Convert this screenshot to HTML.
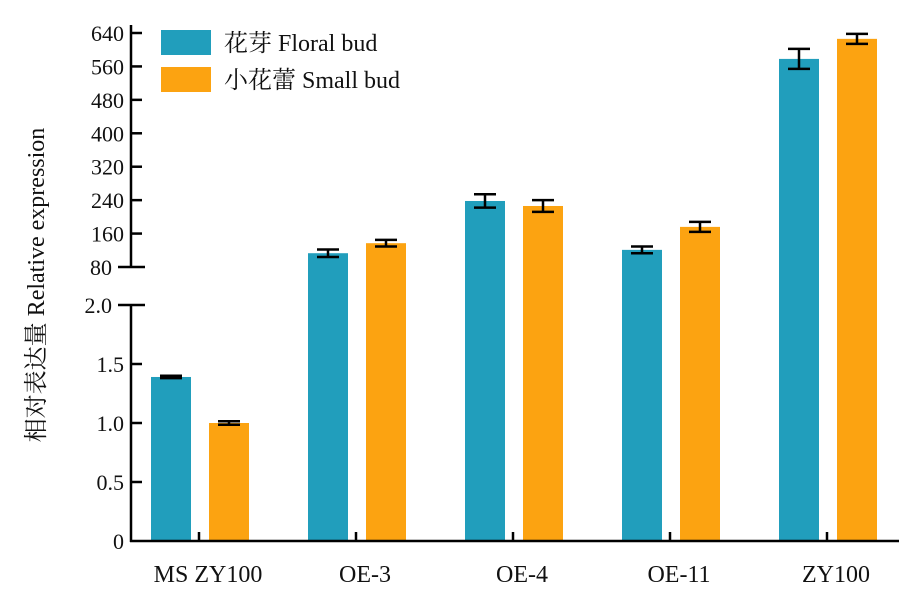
<!DOCTYPE html>
<html><head><meta charset="utf-8"><style>
body{margin:0;background:#fff}
svg text{font-family:"Liberation Serif","Noto Serif CJK SC","Noto Sans CJK SC",serif;fill:#111}
</style></head><body>
<svg id="chart" width="915" height="606" viewBox="0 0 915 606" xmlns="http://www.w3.org/2000/svg">
<g id="bars"></g>
<g id="axes"></g>
<text transform="translate(44,285) rotate(-90)" text-anchor="middle" font-size="24">相对表达量 Relative expression</text>
<g>
<rect x="161" y="30" width="50" height="25" fill="#219EBC"/>
<text x="224" y="51" font-size="24">花芽 Floral bud</text>
<rect x="161" y="67" width="50" height="25" fill="#FCA311"/>
<text x="224" y="88" font-size="24">小花蕾 Small bud</text>
</g>
</svg>
<script>
const categories=["MS ZY100","OE-3","OE-4","OE-11","ZY100"];
const floralValues=[1.39,113,238,121,578];
const floralErrors=[0.01,9,16,8,24];
const smallValues=[1.0,137,226,176,626];
const smallErrors=[0.015,8,14,12,12];
const upperTicks=[80,160,240,320,400,480,560,640];
const lowerTicks=[0,0.5,1.0,1.5,2.0];
const lowerTickLabels=["0","0.5","1.0","1.5","2.0"];

const NS="http://www.w3.org/2000/svg";
const X0=131,Y0=541;
function yLow(v){return 541-v*118;}
function yUp(v){return 267-(v-80)*(234/560);}
function yScale(v){return v<=2?yLow(v):yUp(v);}
function xCenter(i){return 199+i*157;}
function mk(tag,attrs,parent){const e=document.createElementNS(NS,tag);for(const k in attrs)e.setAttribute(k,attrs[k]);parent.appendChild(e);return e;}
const bars=document.getElementById('bars'),axes=document.getElementById('axes');
function drawBar(i,v,err,dx,color,nm){
  const x=xCenter(i)+dx;const top=yScale(v);
  const r=mk('rect',{x:x,y:top,width:40,height:Y0-top,fill:color},bars);
  
  
  const cx=x+20,t=yScale(v+err),b=yScale(v-err);
  const g=mk('g',{stroke:'#000','stroke-width':2.5},bars);
  
  
  mk('line',{x1:cx,y1:t,x2:cx,y2:b},g);
  mk('line',{x1:cx-11,y1:t,x2:cx+11,y2:t},g);
  mk('line',{x1:cx-11,y1:b,x2:cx+11,y2:b},g);
}
categories.forEach((c,i)=>{
  drawBar(i,floralValues[i],floralErrors[i],-48,'#219EBC','floral');
  drawBar(i,smallValues[i],smallErrors[i],10,'#FCA311','small');
  const t=mk('line',{x1:xCenter(i),y1:Y0,x2:xCenter(i),y2:Y0-9,stroke:'#000','stroke-width':2.5},axes);
  
  
  const l=mk('text',{x:xCenter(i)+9,y:582,'text-anchor':'middle','font-size':24},axes);
  
  
  l.textContent=c;
});
const ax=[[X0,25,X0,268],[X0,304,X0,542],[X0-1,Y0,899,Y0]];
ax.forEach(a=>{const e=mk('line',{x1:a[0],y1:a[1],x2:a[2],y2:a[3],stroke:'#000','stroke-width':2.5},axes);
  
  });
upperTicks.forEach(v=>{const y=yUp(v);const brk=v===80;
  const e=mk('line',{x1:brk?118:X0,y1:y,x2:brk?145:142,y2:y,stroke:'#000','stroke-width':2.5},axes);
  
  
  const t=mk('text',{x:brk?112:124,y:y+8,'text-anchor':'end','font-size':22},axes);
  
  
  t.textContent=v;});
lowerTicks.forEach((v,i)=>{const y=yLow(v);const brk=v===2;if(v===0)return;
  const e=mk('line',{x1:brk?118:X0,y1:y,x2:brk?145:142,y2:y,stroke:'#000','stroke-width':2.5},axes);
  
  });
lowerTicks.forEach((v,i)=>{const y=yLow(v);
  const t=mk('text',{x:v===2?112:124,y:y+8,'text-anchor':'end','font-size':22},axes);
  
  
  t.textContent=lowerTickLabels[i];});
</script>
</body></html>
